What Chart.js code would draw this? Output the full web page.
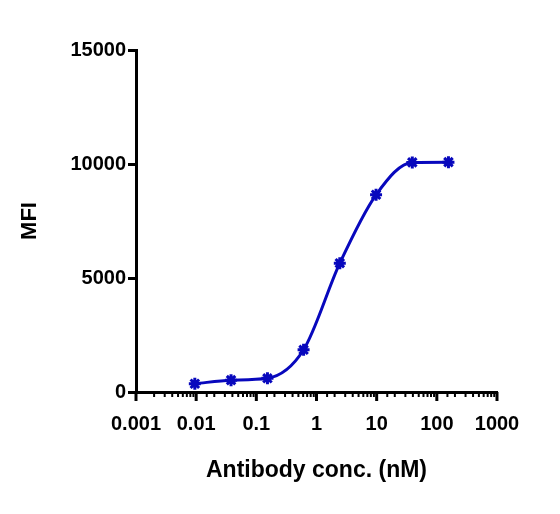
<!DOCTYPE html>
<html>
<head>
<meta charset="utf-8">
<script src="https://cdn.jsdelivr.net/npm/chart.js@4/dist/chart.umd.min.js"></script>
<style>
  html, body { margin: 0; padding: 0; background: #fff; }
  #wrap { width: 560px; height: 514px; }
</style>
</head>
<body>
<div id="wrap"><canvas id="chart" width="560" height="514"></canvas></div>
<script>
// antibody concentrations (nM), 4-fold dilution
const conc = [0.0095, 0.038, 0.153, 0.61, 2.44, 9.77, 39.1, 156];
// measured MFI
const mfi = [360, 520, 600, 1850, 5650, 8650, 10070, 10080];

const xTickValues = [0.001, 0.01, 0.1, 1, 10, 100, 1000];
const xTickLabels = ['0.001', '0.01', '0.1', '1', '10', '100', '1000'];
const yTickValues = [0, 5000, 10000, 15000];
const yTickLabels = ['0', '5000', '10000', '15000'];

const FONT = "'Liberation Sans', Arial, sans-serif";
const BLUE = '#0808bd';

// draws log-axis tick marks: long on decades, short in between
const logTicks = {
  id: 'logTicks',
  afterDraw(chart) {
    const xs = chart.scales.x;
    const ctx = chart.ctx;
    const y0 = xs.top;
    ctx.save();
    ctx.strokeStyle = '#000';
    xs.ticks.forEach(t => {
      const lg = Math.log10(t.value);
      const major = Math.abs(lg - Math.round(lg)) < 1e-6;
      const px = xs.getPixelForValue(t.value);
      ctx.lineWidth = major ? 3 : 2;
      ctx.beginPath();
      ctx.moveTo(px, y0);
      ctx.lineTo(px, y0 + (major ? 9 : 5));
      ctx.stroke();
    });
    ctx.restore();
  }
};

new Chart(document.getElementById('chart'), {
  type: 'line',
  data: {
    datasets: [
      {
        data: conc.map((c, i) => ({ x: c, y: mfi[i] })),
        borderColor: BLUE,
        backgroundColor: BLUE,
        borderWidth: 3,
        cubicInterpolationMode: 'monotone',
        pointStyle: 'star',
        pointRadius: 6,
        pointBorderWidth: 3,
        pointBorderColor: BLUE,
        pointBackgroundColor: BLUE,
        clip: false,
      },
    ],
  },
  plugins: [logTicks],
  options: {
    responsive: false,
    animation: false,
    layout: { padding: { top: 50, right: 63, left: 0, bottom: 0 } },
    plugins: {
      legend: { display: false },
      tooltip: { enabled: false },
    },
    scales: {
      x: {
        type: 'logarithmic',
        min: 0.001,
        max: 1000,
        afterFit: s => { s.height = 122; },
        border: { display: true, color: '#000', width: 3 },
        grid: {
          drawOnChartArea: false,
          drawTicks: true,
          tickLength: 8,
          tickColor: 'rgba(0,0,0,0)',
        },
        ticks: {
          autoSkip: false,
          maxRotation: 0,
          padding: 12,
          color: '#000',
          font: { family: FONT, size: 20, weight: 'bold' },
          callback: v => {
            const i = xTickValues.findIndex(t => Math.abs(t - v) / t < 1e-6);
            return i >= 0 ? xTickLabels[i] : '';
          },
        },
        title: {
          display: true,
          text: 'Antibody conc. (nM)',
          color: '#000',
          font: { family: FONT, size: 23, weight: 'bold' },
          padding: { top: 0, bottom: 30 },
        },
      },
      y: {
        min: 0,
        max: 15000,
        afterFit: s => { s.width = 136; },
        afterBuildTicks: s => { s.ticks = yTickValues.map(v => ({ value: v })); },
        border: { display: true, color: '#000', width: 3 },
        grid: {
          drawOnChartArea: false,
          drawTicks: true,
          tickLength: 8,
          tickWidth: 3,
          tickColor: '#000',
        },
        ticks: {
          padding: 2,
          color: '#000',
          font: { family: FONT, size: 20, weight: 'bold' },
          callback: v => {
            const i = yTickValues.indexOf(v);
            return i >= 0 ? yTickLabels[i] : '';
          },
        },
        title: {
          display: true,
          text: 'MFI',
          color: '#000',
          font: { family: FONT, size: 22, weight: 'bold' },
          padding: { top: 17, bottom: 0 },
        },
      },
    },
  },
});
</script>
</body>
</html>
